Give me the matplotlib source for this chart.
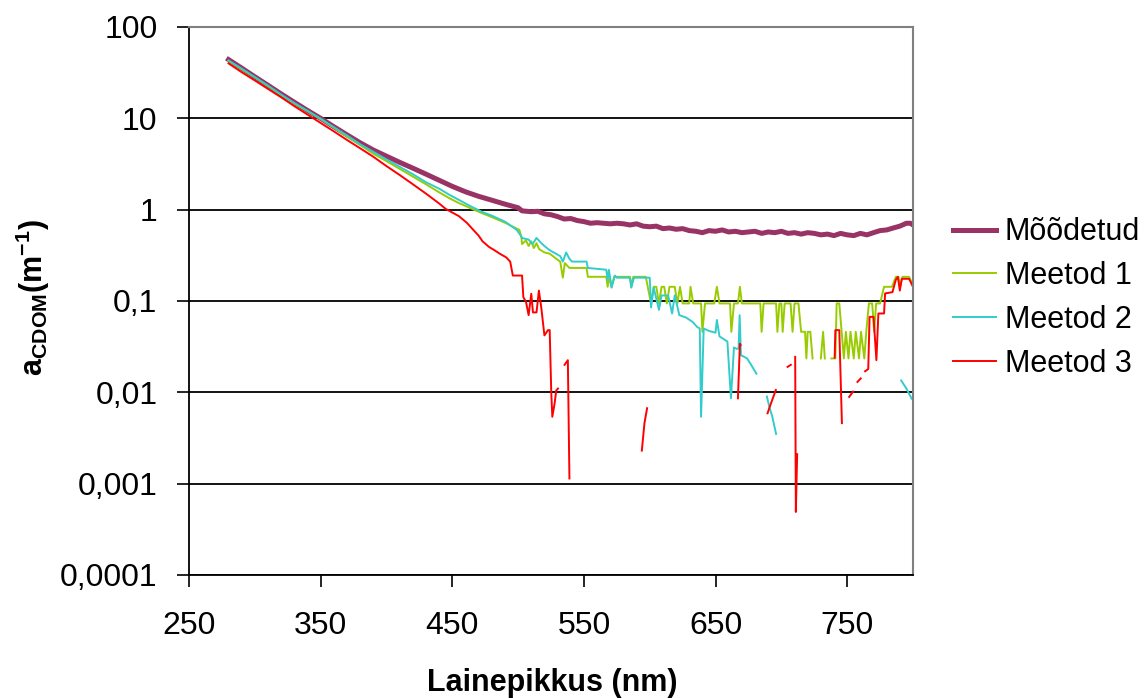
import matplotlib
matplotlib.use("Agg")
import matplotlib.pyplot as plt
from matplotlib.ticker import FixedLocator, FixedFormatter

nan = float("nan")

# measured absorption spectrum
wl_measured = [280, 290, 300, 310, 320, 330, 340, 350, 360, 370, 380, 390, 400, 410,
               420, 430, 440, 450, 460, 470, 480, 490, 500, 503, 510, 515, 520, 525,
               530, 535, 540, 545, 550, 555, 560, 565, 570, 575, 580, 585, 590, 595,
               600, 605, 610, 615, 620, 625, 630, 635, 640, 645, 650, 655, 660, 665,
               670, 675, 680, 685, 690, 695, 700, 705, 710, 715, 720, 725, 730, 735,
               740, 745, 750, 755, 760, 765, 770, 775, 780, 785, 790, 795, 798, 800]
a_measured = [44, 35.5, 28.5, 23, 18.5, 15, 12.2, 10, 8.1, 6.6, 5.4, 4.5, 3.85, 3.3,
              2.85, 2.45, 2.1, 1.8, 1.57, 1.4, 1.27, 1.15, 1.05, 0.97, 0.95, 0.96, 0.9, 0.88,
              0.84, 0.79, 0.8, 0.76, 0.74, 0.71, 0.72, 0.71, 0.7, 0.71, 0.7, 0.68, 0.7, 0.66,
              0.65, 0.66, 0.62, 0.63, 0.61, 0.62, 0.59, 0.58, 0.56, 0.59, 0.58, 0.6, 0.57, 0.58,
              0.56, 0.57, 0.58, 0.55, 0.57, 0.56, 0.58, 0.55, 0.56, 0.54, 0.56, 0.55, 0.53, 0.54,
              0.52, 0.55, 0.53, 0.52, 0.55, 0.53, 0.56, 0.59, 0.6, 0.63, 0.66, 0.71, 0.71, 0.68]

# method 1
wl_m1 = [280, 290, 300, 310, 320, 330, 340, 350, 360, 370, 380, 390, 400, 410, 420,
         430, 440, 448, 455, 460, 465, 473, 480, 490, 498, 501, 502.5, 503, 506, 508,
         510, 512, 514, 516, 520, 524, 529, 532, 534, 535.5, 539, 552, 553, 567, 568,
         569.5, 571, 573, 585, 586, 587.5, 597, 601, 603, 605, 607, 609, 611, 613, 615,
         619, 621, 623, 625, 630, 631, 633, 639, 640, 642, 649, 651, 653, 661, 662, 664,
         667, 668.5, 670, 684, 685, 686.5, 696, 697, 698.5, 700, 701, 702.5, 707, 708.5,
         710, 713, 715, 718, 719, 720, 722, 723.7, 726, 730, 731.7, 733, 735, 738, 741,
         742, 744, 747.5, 749, 751, 752.5, 755, 756.5, 759, 760.5, 763, 764.5, 766.5, 769,
         770.5, 772, 775, 778, 784, 787, 789, 790, 792, 797, 800]
a_m1 = [42.5, 34.5, 28, 22.5, 18, 14.5, 12, 9.8, 7.9, 6.3, 5.1, 4.1, 3.4, 2.8, 2.3,
        1.9, 1.55, 1.33, 1.18, 1.1, 1.02, 0.91, 0.83, 0.72, 0.63, 0.6, 0.5, 0.42, 0.46, 0.4,
        0.45, 0.38, 0.43, 0.37, 0.34, 0.33, 0.29, 0.27, 0.18, 0.26, 0.23, 0.23, 0.184, 0.184, 0.143,
        0.184, 0.143, 0.184, 0.184, 0.143, 0.184, 0.184, 0.094, 0.143, 0.143, 0.094, 0.143, 0.143, 0.094, 0.143,
        0.143, 0.094, 0.143, 0.094, 0.094, 0.143, 0.094, 0.094, 0.046, 0.094, 0.094, 0.143, 0.094, 0.094, 0.046, 0.094,
        0.094, 0.143, 0.094, 0.094, 0.046, 0.094, 0.094, 0.046, 0.094, 0.094, 0.046, 0.094, 0.094, 0.046,
        0.094, 0.094, 0.046, 0.046, 0.0235, 0.046, 0.046, 0.0235, nan, 0.0235, 0.046, 0.0235, nan, 0.0235, 0.0235,
        0.094, 0.094, 0.0235, 0.046, 0.0235, 0.046, 0.0235, 0.046, 0.0235, 0.046, 0.0235, 0.046, 0.094, 0.094,
        0.046, 0.094, 0.094, 0.143, 0.143, 0.184, 0.184, 0.143, 0.184, 0.184, 0.15]

# method 2
wl_m2 = [280, 290, 300, 310, 320, 330, 340, 350, 360, 370, 380, 390, 400, 410, 420,
         430, 440, 448, 455, 460, 465, 473, 480, 490, 499, 502, 503, 508, 511, 514,
         517, 520, 524, 532, 534, 536.5, 539, 541, 552, 553, 567, 568, 569, 571, 573.5,
         575, 585, 586, 588, 597, 600, 601, 603, 607, 609, 614, 617, 619, 622.5, 627.5,
         632.6, 636, 638, 639, 641, 645, 650, 651, 653, 659, 661.7, 664, 666, 667.5, 668.3,
         669.3, 674, 678, 681, 685, 689, 691, 693, 696, 750, 791, 795, 799, 800]
a_m2 = [43, 35, 28.3, 22.8, 18.2, 14.7, 12.1, 9.9, 8.0, 6.5, 5.2, 4.3, 3.55, 2.95, 2.45,
        2.0, 1.7, 1.45, 1.28, 1.17, 1.07, 0.94, 0.86, 0.74, 0.6, 0.52, 0.49, 0.47, 0.42, 0.49,
        0.44, 0.4, 0.36, 0.31, 0.27, 0.34, 0.29, 0.27, 0.27, 0.23, 0.22, 0.17, 0.22, 0.14, 0.19,
        0.18, 0.18, 0.14, 0.18, 0.18, 0.18, 0.085, 0.14, 0.08, 0.115, 0.115, 0.073, 0.115, 0.07, 0.066,
        0.059, 0.052, 0.05, 0.0054, 0.05, 0.047, 0.045, 0.062, 0.041, 0.036, 0.0086, 0.031, 0.03, 0.03, 0.07,
        0.0255, 0.0235, 0.019, 0.016, nan, 0.009, 0.0068, 0.0055, 0.0035, nan, 0.0135, 0.011, 0.0085, 0.0085]

# method 3
wl_m3 = [280, 290, 300, 310, 320, 330, 340, 350, 360, 370, 380, 390, 400, 410, 420,
         430, 440, 445, 450, 455, 461, 466, 470, 473, 478, 482, 486, 491, 494, 496,
         501, 503, 504, 506, 508, 510, 511.3, 514, 515.8, 517.6, 520, 522.7, 524, 525.2, 526,
         527.7, 529, 530.3, 533, 535.3, 537.8, 539, 560, 594, 596, 598, 630, 667, 668.5,
         669, 680, 689.5, 692, 695.8, 700, 704.7, 707.2, 709, 710.5, 711, 712, 730, 740.5,
         741, 744, 746, 749, 751.5, 754.5, 756, 757.8, 760.3, 762, 763.6, 766, 767, 770,
         772.2, 773.7, 778, 778.8, 784.4, 786.9, 788.5, 790, 791.5, 797, 800]
a_m3 = [40, 32, 26, 21, 17, 13.6, 11, 8.9, 7.2, 5.8, 4.7, 3.8, 3.0, 2.4, 1.9,
        1.5, 1.17, 1.02, 0.93, 0.85, 0.72, 0.6, 0.52, 0.45, 0.39, 0.36, 0.33, 0.3, 0.27, 0.19,
        0.19, 0.19, 0.11, 0.098, 0.07, 0.12, 0.075, 0.075, 0.13, 0.085, 0.042, 0.048, 0.048, 0.01, 0.0054,
        0.0075, 0.0105, 0.011, nan, 0.02, 0.0225, 0.00114, nan, 0.0023, 0.0046, 0.0067, nan, 0.0086, 0.034,
        0.033, nan, 0.0059, 0.0075, 0.0106, nan, 0.019, 0.02, nan, 0.0245, 0.00049, 0.0021, nan, 0.024,
        0.048, 0.048, 0.0046, nan, 0.0089, 0.0102, nan, 0.013, 0.0142, nan, 0.017, 0.018, 0.067, 0.067,
        0.0225, 0.073, 0.073, 0.121, 0.125, 0.17, 0.184, 0.13, 0.175, 0.175, 0.143]

series_names = ["Mõõdetud", "Meetod 1", "Meetod 2", "Meetod 3"]
series_colors = ["#993366", "#99CC00", "#33CCCC", "#FF0000"]

y_ticks = [0.0001, 0.001, 0.01, 0.1, 1, 10, 100]
y_tick_labels = ["0,0001", "0,001", "0,01", "0,1", "1", "10", "100"]
x_ticks = [250, 350, 450, 550, 650, 750]

plt.rcParams["font.family"] = ["Liberation Sans", "DejaVu Sans"]
plt.rcParams["mathtext.fontset"] = "custom"
plt.rcParams["mathtext.rm"] = "Liberation Sans:bold"
plt.rcParams["mathtext.default"] = "rm"

fig = plt.figure(figsize=(11.46, 6.98), dpi=100)
ax = fig.add_axes([189 / 1146, 1 - 575 / 698, 724 / 1146, 548 / 698])

ax.plot(wl_measured, a_measured, color=series_colors[0], lw=3.6,
        label=series_names[0], solid_joinstyle="round")
ax.plot(wl_m1, a_m1, color=series_colors[1], lw=1.4, label=series_names[1])
ax.plot(wl_m2, a_m2, color=series_colors[2], lw=1.4, label=series_names[2])
ax.plot(wl_m3, a_m3, color=series_colors[3], lw=1.4, label=series_names[3])

ax.set_yscale("log")
ax.set_ylim(0.0001, 100)
ax.set_xlim(250, 800)
ax.yaxis.set_major_locator(FixedLocator(y_ticks))
ax.yaxis.set_major_formatter(FixedFormatter(y_tick_labels))
ax.yaxis.set_minor_locator(FixedLocator([]))
ax.set_xticks(x_ticks)

ax.yaxis.grid(True, color="black", lw=1.3)
ax.set_axisbelow(True)
for side in ("top", "right"):
    ax.spines[side].set_color("#808080")
    ax.spines[side].set_linewidth(1.5)
for side in ("left", "bottom"):
    ax.spines[side].set_color("black")
    ax.spines[side].set_linewidth(1.3)

ax.tick_params(axis="y", direction="out", length=8.6, width=1.2, pad=14, labelsize=23)
ax.tick_params(axis="x", direction="out", length=8.6, width=1.2, pad=17, labelsize=23)

fig.text(552 / 1146, 1 - 683 / 698, "Lainepikkus (nm)", fontsize=22,
         fontweight="bold", ha="center", va="center")
fig.text(33 / 1146, 1 - 298 / 698, r"a$_{CDOM}$(m$^{-1}$)", fontsize=22,
         fontweight="bold", rotation=90, ha="center", va="center")

fig.legend(loc="center left", bbox_to_anchor=(953 / 1146, 1 - 298 / 698),
           frameon=False, fontsize=22, handlelength=1.4, handletextpad=0.3,
           labelspacing=0.45, borderpad=0, borderaxespad=0)

fig.savefig("out.png", dpi=100)
